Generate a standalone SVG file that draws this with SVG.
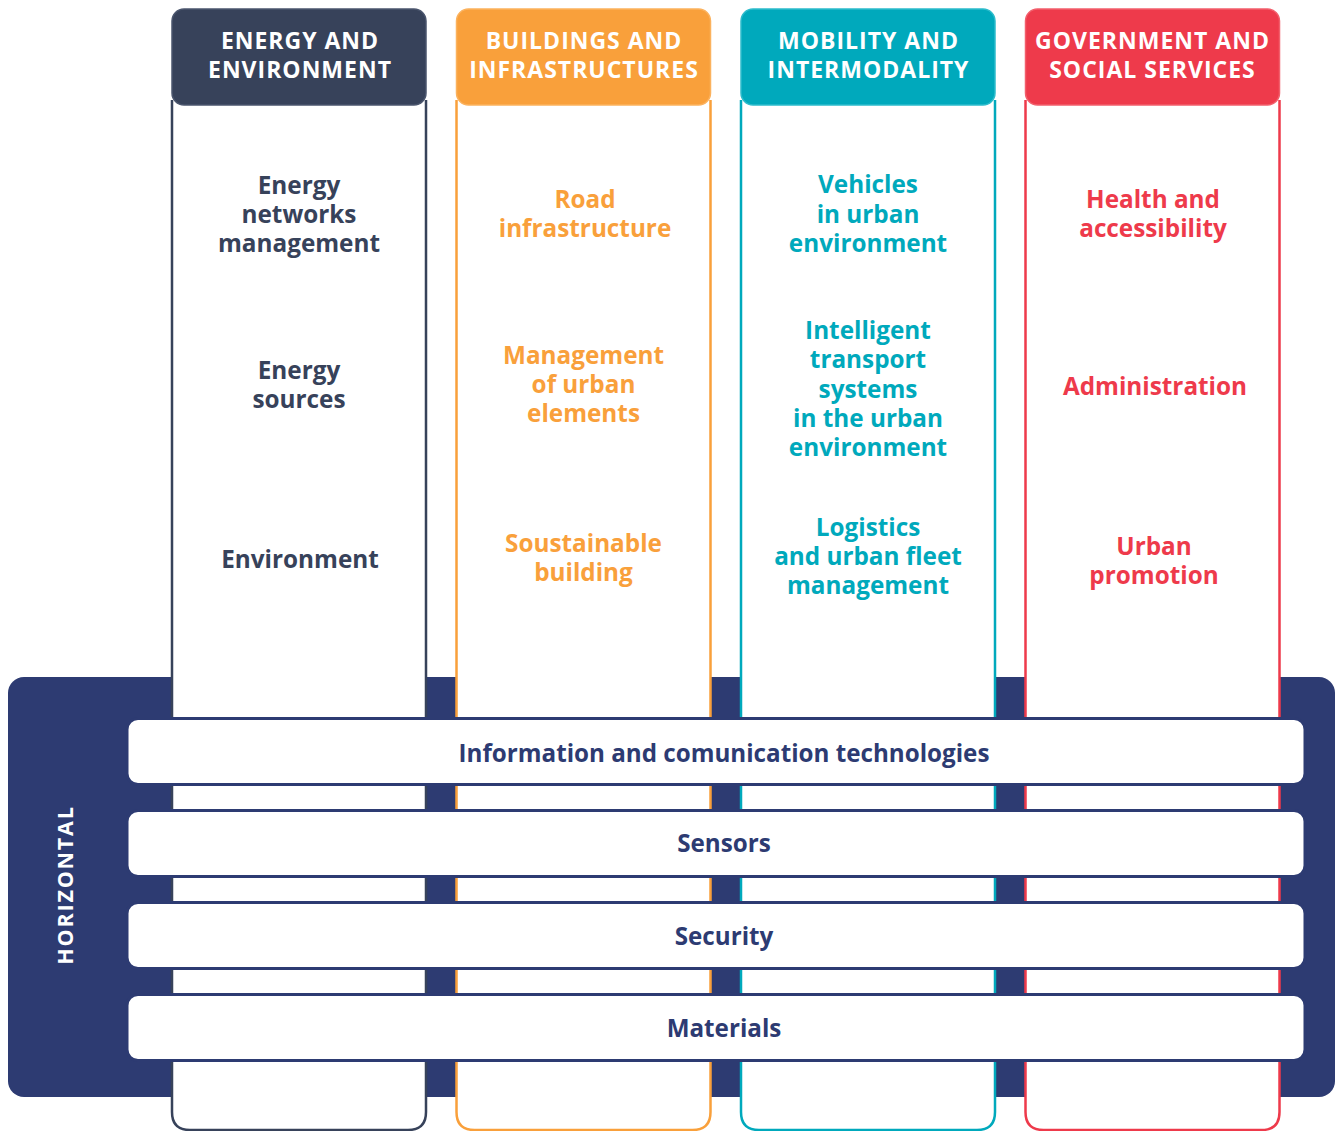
<svg xmlns="http://www.w3.org/2000/svg" width="1340" height="1131" viewBox="0 0 1340 1131">
  <style>
    .hdr { font-family: "Open Sans", "DejaVu Sans", sans-serif; font-weight: 700; font-size: 23px; fill: #ffffff; text-anchor: middle; letter-spacing: 1px; }
    .item { font-family: "Open Sans", "DejaVu Sans", sans-serif; font-weight: 700; font-size: 24.3px; text-anchor: middle; }
    .bar { fill: #ffffff; stroke: #2d3b72; stroke-width: 3; }
    .bartxt { font-family: "Open Sans", "DejaVu Sans", sans-serif; font-weight: 700; font-size: 24.2px; fill: #2d3b72; text-anchor: middle; }
    .col { fill: #ffffff; stroke-width: 2.5; }
    .c1 { fill: #37425a; } .s1 { stroke: #37425a; }
    .c2 { fill: #f9a03b; } .s2 { stroke: #f9a03b; }
    .c3 { fill: #00a9bc; } .s3 { stroke: #00a9bc; }
    .c4 { fill: #ee3a4b; } .s4 { stroke: #ee3a4b; }
  </style>

  <g id="horizontal-panel">
    <rect x="8" y="677" width="1327" height="420" rx="16" fill="#2d3b72"/>
    <text x="0" y="0" transform="translate(73,885) rotate(-90)" font-family="Open Sans, DejaVu Sans, sans-serif" font-weight="700" font-size="21.5" fill="#ffffff" text-anchor="middle" letter-spacing="1.8">HORIZONTAL</text>
  </g>

  <g id="columns">
    <path class="col s1" d="M172,100 V1112 Q172,1130 190,1130 H408 Q426,1130 426,1112 V100"/>
    <path class="col s2" d="M456.5,100 V1112 Q456.5,1130 474.5,1130 H692.5 Q710.5,1130 710.5,1112 V100"/>
    <path class="col s3" d="M741,100 V1112 Q741,1130 759,1130 H977 Q995,1130 995,1112 V100"/>
    <path class="col s4" d="M1025.5,100 V1112 Q1025.5,1130 1043.5,1130 H1261.5 Q1279.5,1130 1279.5,1112 V100"/>
  </g>

  <g id="bar-ict">
    <rect class="bar" x="127" y="718.5" width="1178" height="66" rx="11"/>
    <text class="bartxt" x="724" y="762">Information and comunication technologies</text>
  </g>
  <g id="bar-sensors">
    <rect class="bar" x="127" y="810.5" width="1178" height="66" rx="11"/>
    <text class="bartxt" x="724" y="852">Sensors</text>
  </g>
  <g id="bar-security">
    <rect class="bar" x="127" y="902.5" width="1178" height="66" rx="11"/>
    <text class="bartxt" x="724" y="945">Security</text>
  </g>
  <g id="bar-materials">
    <rect class="bar" x="127" y="994.5" width="1178" height="66" rx="11"/>
    <text class="bartxt" x="724" y="1037">Materials</text>
  </g>

  <g id="energy-environment">
    <rect x="172" y="9" width="254" height="96" rx="12" class="c1" stroke="#4b566e" stroke-width="1.5"/>
    <text class="hdr" x="300" y="49">ENERGY AND</text>
    <text class="hdr" x="300" y="77.5">ENVIRONMENT</text>
    <text class="item c1" x="299"><tspan x="299" y="194">Energy</tspan><tspan x="299" y="223">networks</tspan><tspan x="299" y="252">management</tspan></text>
    <text class="item c1" x="299"><tspan x="299" y="379">Energy</tspan><tspan x="299" y="408">sources</tspan></text>
    <text class="item c1" x="300" y="568">Environment</text>
  </g>

  <g id="buildings-infrastructures">
    <rect x="456.5" y="9" width="254" height="96" rx="12" class="c2" stroke="#fbb25e" stroke-width="1.5"/>
    <text class="hdr" x="584" y="49">BUILDINGS AND</text>
    <text class="hdr" x="584" y="77.5">INFRASTRUCTURES</text>
    <text class="item c2" x="585"><tspan x="585" y="208">Road</tspan><tspan x="585" y="237">infrastructure</tspan></text>
    <text class="item c2" x="583.5"><tspan x="583.5" y="364">Management</tspan><tspan x="583.5" y="393">of urban</tspan><tspan x="583.5" y="422">elements</tspan></text>
    <text class="item c2" x="583.5"><tspan x="583.5" y="552">Soustainable</tspan><tspan x="583.5" y="581">building</tspan></text>
  </g>

  <g id="mobility-intermodality">
    <rect x="741" y="9" width="254" height="96" rx="12" class="c3" stroke="#2dbccc" stroke-width="1.5"/>
    <text class="hdr" x="868.5" y="49">MOBILITY AND</text>
    <text class="hdr" x="868.5" y="77.5">INTERMODALITY</text>
    <text class="item c3" x="868"><tspan x="868" y="193">Vehicles</tspan><tspan x="868" y="223">in urban</tspan><tspan x="868" y="252">environment</tspan></text>
    <text class="item c3" x="868"><tspan x="868" y="339">Intelligent</tspan><tspan x="868" y="368">transport</tspan><tspan x="868" y="398">systems</tspan><tspan x="868" y="427">in the urban</tspan><tspan x="868" y="456">environment</tspan></text>
    <text class="item c3" x="868"><tspan x="868" y="536">Logistics</tspan><tspan x="868" y="565">and urban fleet</tspan><tspan x="868" y="594">management</tspan></text>
  </g>

  <g id="government-social-services">
    <rect x="1025.5" y="9" width="254" height="96" rx="12" class="c4" stroke="#f25f6c" stroke-width="1.5"/>
    <text class="hdr" x="1152.5" y="49">GOVERNMENT AND</text>
    <text class="hdr" x="1152.5" y="77.5">SOCIAL SERVICES</text>
    <text class="item c4" x="1153"><tspan x="1153" y="208">Health and</tspan><tspan x="1153" y="237">accessibility</tspan></text>
    <text class="item c4" x="1155" y="395">Administration</text>
    <text class="item c4" x="1154"><tspan x="1154" y="555">Urban</tspan><tspan x="1154" y="584">promotion</tspan></text>
  </g>
</svg>
